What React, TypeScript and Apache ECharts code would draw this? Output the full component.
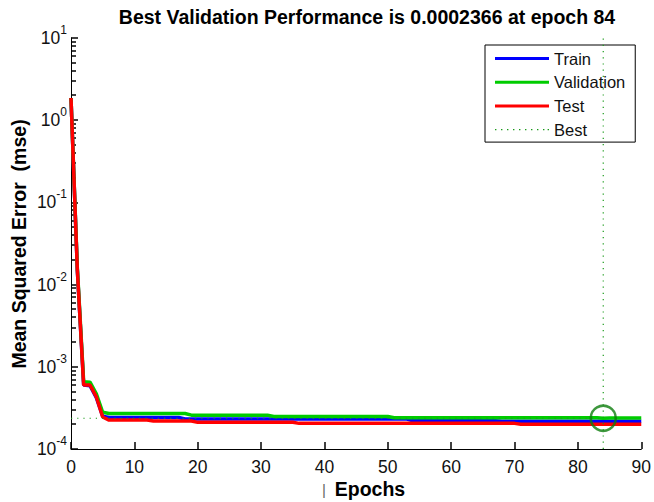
import React, { useEffect, useRef } from "react";
import * as echarts from "echarts";

// ---- data ----
const titleText = "Best Validation Performance is 0.0002366 at epoch 84";
const seriesNames = ["Train", "Validation", "Test", "Best"];
const xTickLabels = [0, 10, 20, 30, 40, 50, 60, 70, 80, 90];

// performance per epoch (index = epoch 0..90)
const trainPerf = [
  1.86, 0.015, 0.0006, 0.00059, 0.00042, 0.00025,
  0.000242, 0.000242, 0.000242, 0.000242, 0.000242, 0.000242, 0.000242, 0.000242, 0.000242, 0.000242, 0.000242, 0.000242,
  0.000232, 0.000232, 0.000232, 0.000232, 0.000232, 0.000232, 0.000232, 0.000232, 0.000232, 0.000232, 0.000232, 0.000232,
  0.000232, 0.000232, 0.000232, 0.000232, 0.000232, 0.000232, 0.000232, 0.000232, 0.000232, 0.000232, 0.000232, 0.000232,
  0.000232, 0.000232, 0.000232, 0.000232, 0.000232, 0.000232, 0.000232, 0.000232, 0.000232, 0.000232, 0.000232, 0.000232,
  0.000221, 0.000221, 0.000221, 0.000221, 0.000221, 0.000221, 0.000221, 0.000221, 0.000221, 0.000221, 0.000221, 0.000221, 0.000221, 0.000221,
  0.000217, 0.000217, 0.000217, 0.000217, 0.000217, 0.000217, 0.000217, 0.000217, 0.000217, 0.000217, 0.000217, 0.000217,
  0.000217, 0.000217, 0.000217, 0.000217, 0.000217, 0.000217, 0.000217, 0.000217, 0.000217, 0.000217, 0.000217,
];
const validationPerf = [
  1.86, 0.016, 0.00066, 0.00065, 0.00047, 0.00028,
  0.00027, 0.00027, 0.00027, 0.00027, 0.00027, 0.00027, 0.00027, 0.00027, 0.00027, 0.00027, 0.00027, 0.00027, 0.00027,
  0.000258, 0.000258, 0.000258, 0.000258, 0.000258, 0.000258, 0.000258, 0.000258, 0.000258, 0.000258, 0.000258, 0.000258, 0.000258,
  0.000248, 0.000248, 0.000248, 0.000248, 0.000248, 0.000248, 0.000248, 0.000248, 0.000248, 0.000248,
  0.000248, 0.000248, 0.000248, 0.000248, 0.000248, 0.000248, 0.000248, 0.000248, 0.000248,
  0.00024, 0.00024, 0.00024, 0.00024, 0.00024, 0.00024, 0.00024, 0.00024, 0.00024, 0.00024, 0.00024,
  0.00024, 0.00024, 0.00024, 0.00024, 0.00024, 0.00024, 0.00024, 0.00024, 0.00024, 0.00024, 0.00024,
  0.00024, 0.00024, 0.00024, 0.00024, 0.00024, 0.00024, 0.00024, 0.00024, 0.00024, 0.00024, 0.00024,
  0.0002366,
  0.000238, 0.000238, 0.000238, 0.000238, 0.000238, 0.000238,
];
const testPerf = [
  1.86, 0.015, 0.0006, 0.0006, 0.00043, 0.000245,
  0.000225, 0.000225, 0.000225, 0.000225, 0.000225, 0.000225, 0.000225,
  0.000219, 0.000219, 0.000219, 0.000219, 0.000219, 0.000219, 0.000219,
  0.000211, 0.000211, 0.000211, 0.000211, 0.000211, 0.000211, 0.000211, 0.000211,
  0.000211, 0.000211, 0.000211, 0.000211, 0.000211, 0.000211, 0.000211, 0.000211,
  0.000205, 0.000205, 0.000205, 0.000205, 0.000205, 0.000205, 0.000205, 0.000205, 0.000205, 0.000205, 0.000205, 0.000205,
  0.000205, 0.000205, 0.000205, 0.000205, 0.000205, 0.000205, 0.000205, 0.000205, 0.000205, 0.000205, 0.000205, 0.000205,
  0.000205, 0.000205, 0.000205, 0.000205, 0.000205, 0.000205, 0.000205, 0.000205, 0.000205, 0.000205, 0.000205,
  0.0002, 0.0002, 0.0002, 0.0002, 0.0002, 0.0002, 0.0002, 0.0002, 0.0002, 0.0002,
  0.0002, 0.0002, 0.0002, 0.0002, 0.0002, 0.0002, 0.0002, 0.0002, 0.0002, 0.0002,
];
const bestEpoch = 84;
const bestPerf = 0.0002366;
const yMin = 1e-4;
const yMax = 10;
const minorTickValues = [
  2e-4, 3e-4, 4e-4, 5e-4, 6e-4, 7e-4, 8e-4, 9e-4,
  2e-3, 3e-3, 4e-3, 5e-3, 6e-3, 7e-3, 8e-3, 9e-3,
  2e-2, 3e-2, 4e-2, 5e-2, 6e-2, 7e-2, 8e-2, 9e-2,
  2e-1, 3e-1, 4e-1, 5e-1, 6e-1, 7e-1, 8e-1, 9e-1,
  2, 3, 4, 5, 6, 7, 8, 9,
];

const FONT = "'Liberation Sans', Arial, Helvetica, sans-serif";
const DOTS_ICON =
  "path://M0,0h1.4v1.4h-1.4z M6,0h1.4v1.4h-1.4z M12,0h1.4v1.4h-1.4z M18,0h1.4v1.4h-1.4z M24,0h1.4v1.4h-1.4z " +
  "M30,0h1.4v1.4h-1.4z M36,0h1.4v1.4h-1.4z M42,0h1.4v1.4h-1.4z M48,0h1.4v1.4h-1.4z M52.6,0h1.4v1.4h-1.4z";

export default function App() {
  const ref = useRef<HTMLDivElement>(null);

  useEffect(() => {
    if (!ref.current) return;
    const chart = echarts.init(ref.current, null, { renderer: "svg", width: 654, height: 502 });
    const toXY = (arr: number[]) => arr.map((v, i) => [i, v]);

    const option: any = {
      animation: false,
      grid: { left: 71, right: 10, top: 38, bottom: 53, containLabel: false },
      xAxis: {
        type: "value",
        min: xTickLabels[0],
        max: xTickLabels[xTickLabels.length - 1],
        interval: 10,
        splitLine: { show: false },
        axisLine: { show: true, onZero: false, lineStyle: { color: "#000", width: 1 } },
        axisTick: { show: true, inside: true, length: 7, lineStyle: { color: "#000", width: 1.5 } },
        axisLabel: { color: "#111", fontSize: 17.5, fontFamily: FONT, margin: 9 },
      },
      yAxis: {
        type: "log",
        logBase: 10,
        min: yMin,
        max: yMax,
        splitLine: { show: false },
        axisLine: { show: true, lineStyle: { color: "#000", width: 1 } },
        axisTick: { show: true, inside: true, length: 7, lineStyle: { color: "#000", width: 1.5 } },
        axisLabel: {
          margin: 4,
          formatter: (v: number) => `{b|10}{e|${Math.round(Math.log10(v))}}`,
          rich: {
            b: { fontSize: 17.5, fontFamily: FONT, color: "#111" },
            e: { fontSize: 12, fontFamily: FONT, color: "#111", padding: [0, 0, 16, 0] },
          },
        },
      },
      legend: {
        data: [
          { name: seriesNames[0], icon: "rect" },
          { name: seriesNames[1], icon: "rect" },
          { name: seriesNames[2], icon: "rect" },
          { name: seriesNames[3], icon: DOTS_ICON },
        ],
        orient: "vertical",
        left: 485,
        top: 45,
        itemWidth: 54,
        itemHeight: 3,
        itemGap: 6.7,
        padding: [5, 10, 4, 10],
        borderColor: "#000",
        borderWidth: 1,
        borderRadius: 0,
        backgroundColor: "#fff",
        textStyle: { fontSize: 16.5, fontFamily: FONT, color: "#111", lineHeight: 16 },
      },
      graphic: [
        {
          type: "text",
          x: 367,
          y: 16.5,
          style: { text: titleText, font: `bold 19.5px ${FONT}`, fill: "#000", align: "center", verticalAlign: "middle" },
        },
        {
          type: "text",
          x: 19,
          y: 244,
          rotation: Math.PI / 2,
          style: { text: "Mean Squared Error  (mse)", font: `bold 19.5px ${FONT}`, fill: "#000", align: "center", verticalAlign: "middle" },
        },
        {
          type: "text",
          x: 370,
          y: 489,
          style: { text: "Epochs", font: `bold 19.5px ${FONT}`, fill: "#000", align: "center", verticalAlign: "middle" },
        },
        {
          type: "text",
          x: 324,
          y: 489,
          style: { text: "|", font: `15px ${FONT}`, fill: "#666", align: "center", verticalAlign: "middle" },
        },
      ],
      series: [
        {
          name: "minorTicks",
          type: "custom",
          data: minorTickValues.map((v) => [0, v]),
          silent: true,
          z: 2,
          renderItem: (params: any, api: any) => {
            const p = api.coord([api.value(0), api.value(1)]);
            return {
              type: "rect",
              shape: { x: p[0], y: Math.round(p[1]) - 0.75, width: 5, height: 1.5 },
              style: { fill: "#000" },
            };
          },
        },
        {
          name: "Train",
          type: "line",
          data: toXY(trainPerf),
          symbol: "none",
          showSymbol: false,
          lineStyle: { color: "#0000ff", width: 3.5 },
          itemStyle: { color: "#0000ff" },
          z: 3,
        },
        {
          name: "Validation",
          type: "line",
          data: toXY(validationPerf),
          symbol: "none",
          showSymbol: false,
          lineStyle: { color: "#00cc00", width: 3.5 },
          itemStyle: { color: "#00cc00" },
          z: 3,
        },
        {
          name: "Test",
          type: "line",
          data: toXY(testPerf),
          symbol: "none",
          showSymbol: false,
          lineStyle: { color: "#ff0000", width: 3.5 },
          itemStyle: { color: "#ff0000" },
          z: 4,
        },
        {
          name: "Best",
          type: "line",
          data: [[bestEpoch, yMin], [bestEpoch, yMax]],
          symbol: "none",
          showSymbol: false,
          lineStyle: { color: "#1a9a1a", width: 1.2, type: [1.2, 5] },
          itemStyle: { color: "#1a9a1a" },
          z: 5,
        },
        {
          name: "Best",
          type: "line",
          data: [[0, bestPerf], [bestEpoch, bestPerf]],
          symbol: "none",
          showSymbol: false,
          lineStyle: { color: "#1a9a1a", width: 1.2, type: [1.2, 5] },
          itemStyle: { color: "#1a9a1a" },
          z: 5,
        },
        {
          name: "bestCircle",
          type: "scatter",
          data: [[bestEpoch, bestPerf]],
          symbol: "circle",
          symbolSize: 25,
          itemStyle: { color: "rgba(0,0,0,0)", borderColor: "#0d7d0d", borderWidth: 2.5 },
          z: 6,
          silent: true,
        },
      ],
    };
    chart.setOption(option);
    return () => chart.dispose();
  }, []);

  return (
    <div
      ref={ref}
      style={{ position: "fixed", left: 0, top: 0, width: 654, height: 502, background: "#fff" }}
    />
  );
}
